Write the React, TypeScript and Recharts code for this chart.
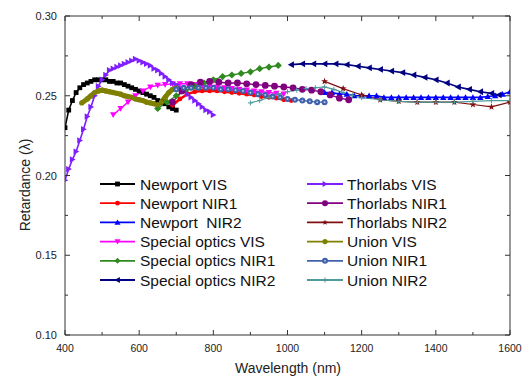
import React from 'react';
import { LineChart, Line, XAxis, YAxis, Legend } from 'recharts';

// ---------- data ----------
const newportVisWl = [400, 410, 420, 430, 440, 450, 460, 470, 480, 490, 500, 510, 520, 530, 540, 550, 560, 570, 580, 590, 600, 610, 620, 630, 640, 650, 660, 670, 680, 690, 700];
const newportVisRet = [0.230, 0.241, 0.247, 0.252, 0.255, 0.257, 0.258, 0.259, 0.260, 0.260, 0.260, 0.260, 0.259, 0.259, 0.258, 0.258, 0.257, 0.256, 0.255, 0.254, 0.253, 0.252, 0.251, 0.250, 0.249, 0.247, 0.246, 0.245, 0.243, 0.242, 0.241];

const newportNir1Wl = [690, 710, 730, 750, 770, 790, 810, 830, 850, 870, 890, 910, 930, 950, 970, 990, 1010];
const newportNir1Ret = [0.244, 0.248, 0.251, 0.2525, 0.253, 0.253, 0.253, 0.2525, 0.252, 0.2515, 0.251, 0.2505, 0.2495, 0.249, 0.2485, 0.2475, 0.247];

const newportNir2Wl = [1100, 1120, 1140, 1160, 1180, 1200, 1220, 1240, 1260, 1280, 1300, 1320, 1340, 1360, 1380, 1400, 1420, 1440, 1460, 1480, 1500, 1520, 1540, 1560, 1580, 1600];
const newportNir2Ret = [0.252, 0.252, 0.251, 0.251, 0.250, 0.250, 0.250, 0.250, 0.249, 0.249, 0.249, 0.249, 0.249, 0.249, 0.249, 0.249, 0.249, 0.249, 0.249, 0.249, 0.249, 0.249, 0.2495, 0.250, 0.251, 0.2525];

const specialVisWl = [530, 550, 570, 590, 610, 630, 650, 670, 690, 710, 730, 750, 770, 790, 810, 830, 850, 870, 890, 910, 930, 950, 970, 990];
const specialVisRet = [0.238, 0.242, 0.246, 0.250, 0.253, 0.2555, 0.2565, 0.257, 0.2575, 0.2575, 0.2575, 0.257, 0.2565, 0.256, 0.2555, 0.255, 0.2545, 0.254, 0.2535, 0.253, 0.2525, 0.252, 0.2515, 0.251];

const specialNir1Wl = [650, 675, 700, 725, 750, 775, 800, 825, 850, 875, 900, 925, 950, 975];
const specialNir1Ret = [0.242, 0.246, 0.250, 0.253, 0.256, 0.258, 0.260, 0.262, 0.263, 0.264, 0.265, 0.267, 0.268, 0.269];

const specialNir2Wl = [1010, 1040, 1070, 1100, 1130, 1160, 1190, 1220, 1250, 1280, 1310, 1340, 1370, 1400, 1430, 1460, 1490, 1520, 1550, 1570];
const specialNir2Ret = [0.2695, 0.270, 0.270, 0.270, 0.270, 0.2695, 0.2685, 0.2675, 0.2665, 0.2655, 0.2645, 0.263, 0.2615, 0.260, 0.258, 0.2555, 0.254, 0.2525, 0.2515, 0.2505];

const thorVisWl = [400, 410, 420, 430, 440, 450, 460, 470, 480, 490, 500, 510, 520, 530, 540, 550, 560, 570, 580, 590, 600, 610, 620, 630, 640, 650, 660, 670, 680, 690, 700, 710, 720, 730, 740, 750, 760, 770, 780, 790, 800];
const thorVisRet = [0.197, 0.204, 0.210, 0.215, 0.222, 0.229, 0.237, 0.243, 0.250, 0.256, 0.260, 0.263, 0.266, 0.267, 0.268, 0.269, 0.270, 0.271, 0.272, 0.273, 0.272, 0.271, 0.270, 0.269, 0.267, 0.266, 0.264, 0.262, 0.260, 0.258, 0.257, 0.255, 0.253, 0.251, 0.249, 0.247, 0.245, 0.243, 0.241, 0.240, 0.238];

const thorNir1Wl = [690, 715, 740, 765, 790, 815, 840, 865, 890, 915, 940, 965, 990, 1015, 1040, 1065, 1090, 1115, 1140, 1165];
const thorNir1Ret = [0.246, 0.253, 0.257, 0.2585, 0.259, 0.2585, 0.258, 0.258, 0.2575, 0.257, 0.2565, 0.256, 0.2555, 0.255, 0.254, 0.2535, 0.2525, 0.2505, 0.2485, 0.2475];

const thorNir2Wl = [1100, 1150, 1200, 1250, 1300, 1350, 1400, 1450, 1500, 1550, 1600];
const thorNir2Ret = [0.259, 0.2545, 0.2505, 0.2475, 0.2465, 0.246, 0.246, 0.246, 0.2445, 0.243, 0.246];

const unionVisWl = [445, 460, 470, 480, 490, 500, 510, 520, 530, 540, 550, 560, 570, 580, 590, 600, 610, 620, 630, 640, 650, 660, 670, 680, 690, 700];
const unionVisRet = [0.2455, 0.248, 0.250, 0.252, 0.253, 0.2535, 0.253, 0.2525, 0.252, 0.2515, 0.251, 0.250, 0.2495, 0.249, 0.248, 0.2475, 0.247, 0.246, 0.2455, 0.245, 0.2445, 0.246, 0.249, 0.252, 0.254, 0.255];

const unionNir1Wl = [700, 720, 740, 760, 780, 800, 820, 840, 860, 880, 900, 920, 940, 960, 980, 1000, 1020, 1040, 1060, 1080, 1100];
const unionNir1Ret = [0.254, 0.255, 0.255, 0.255, 0.255, 0.255, 0.254, 0.254, 0.2535, 0.253, 0.252, 0.251, 0.2505, 0.2495, 0.249, 0.248, 0.2475, 0.247, 0.2465, 0.246, 0.246];

const unionNir2Wl = [900, 925, 950, 975, 1000, 1025, 1050, 1075, 1100, 1125, 1150, 1175, 1200, 1250, 1300, 1350, 1400, 1450, 1500, 1550, 1600];
const unionNir2Ret = [0.2455, 0.247, 0.249, 0.251, 0.2525, 0.2535, 0.2545, 0.255, 0.2555, 0.254, 0.252, 0.250, 0.2488, 0.2475, 0.2465, 0.246, 0.246, 0.246, 0.2465, 0.247, 0.247];

const seriesNames = [
  'Newport VIS', 'Newport NIR1', 'Newport  NIR2', 'Special optics VIS', 'Special optics NIR1', 'Special optics NIR2',
  'Thorlabs VIS', 'Thorlabs NIR1', 'Thorlabs NIR2', 'Union VIS', 'Union NIR1', 'Union NIR2',
];

const xTicks = [400, 500, 600, 700, 800, 900, 1000, 1100, 1200, 1300, 1400, 1500, 1600];
const yTicks = [0.1, 0.125, 0.15, 0.175, 0.2, 0.225, 0.25, 0.275, 0.3];

// ---------- styling ----------
type Shape = 'square' | 'circle' | 'up' | 'down' | 'left' | 'right' | 'diamond' | 'star' | 'plus' | 'ring';

const styles: { color: string; shape: Shape; size: number; width: number }[] = [
  { color: '#000000', shape: 'square', size: 2.4, width: 1.6 },
  { color: '#ff0000', shape: 'circle', size: 2.4, width: 2.5 },
  { color: '#0000ff', shape: 'up', size: 3.2, width: 1.6 },
  { color: '#ff00ff', shape: 'down', size: 3.2, width: 1.4 },
  { color: '#2f8a1f', shape: 'diamond', size: 3.6, width: 1.4 },
  { color: '#000080', shape: 'left', size: 3.4, width: 1.6 },
  { color: '#7f1fff', shape: 'right', size: 3.2, width: 1.6 },
  { color: '#800080', shape: 'circle', size: 3.4, width: 1.4 },
  { color: '#801010', shape: 'star', size: 3.6, width: 1.2 },
  { color: '#808000', shape: 'circle', size: 2.6, width: 5 },
  { color: '#4062ad', shape: 'ring', size: 3.0, width: 1.4 },
  { color: '#4f9a9a', shape: 'plus', size: 2.5, width: 1.2 },
];

const wls = [newportVisWl, newportNir1Wl, newportNir2Wl, specialVisWl, specialNir1Wl, specialNir2Wl, thorVisWl, thorNir1Wl, thorNir2Wl, unionVisWl, unionNir1Wl, unionNir2Wl];
const rets = [newportVisRet, newportNir1Ret, newportNir2Ret, specialVisRet, specialNir1Ret, specialNir2Ret, thorVisRet, thorNir1Ret, thorNir2Ret, unionVisRet, unionNir1Ret, unionNir2Ret];

const series = seriesNames.map((name, i) => ({
  name,
  ...styles[i],
  data: wls[i].map((x, j) => ({ x, y: rets[i][j] })),
}));

function marker(shape: Shape, cx: number, cy: number, s: number, color: string, key?: any) {
  switch (shape) {
    case 'square':
      return <rect key={key} x={cx - s} y={cy - s} width={2 * s} height={2 * s} fill={color} />;
    case 'circle':
      return <circle key={key} cx={cx} cy={cy} r={s} fill={color} />;
    case 'ring':
      return (
        <g key={key}>
          <circle cx={cx} cy={cy} r={s} fill={color} />
          <circle cx={cx} cy={cy} r={s * 0.3} fill="#c8d4ee" />
        </g>
      );
    case 'up':
      return <polygon key={key} points={`${cx},${cy - s} ${cx - s},${cy + s * 0.8} ${cx + s},${cy + s * 0.8}`} fill={color} />;
    case 'down':
      return <polygon key={key} points={`${cx},${cy + s} ${cx - s},${cy - s * 0.8} ${cx + s},${cy - s * 0.8}`} fill={color} />;
    case 'left':
      return <polygon key={key} points={`${cx - s},${cy} ${cx + s * 0.8},${cy - s} ${cx + s * 0.8},${cy + s}`} fill={color} />;
    case 'right':
      return <polygon key={key} points={`${cx + s},${cy} ${cx - s * 0.8},${cy - s} ${cx - s * 0.8},${cy + s}`} fill={color} />;
    case 'diamond':
      return <polygon key={key} points={`${cx},${cy - s} ${cx + s},${cy} ${cx},${cy + s} ${cx - s},${cy}`} fill={color} />;
    case 'star': {
      const pts: string[] = [];
      for (let k = 0; k < 10; k++) {
        const r = k % 2 === 0 ? s : s * 0.42;
        const a = -Math.PI / 2 + (k * Math.PI) / 5;
        pts.push(`${cx + r * Math.cos(a)},${cy + r * Math.sin(a)}`);
      }
      return <polygon key={key} points={pts.join(' ')} fill={color} />;
    }
    case 'plus':
    default:
      return (
        <g key={key} stroke={color} strokeWidth={1}>
          <line x1={cx - s} x2={cx + s} y1={cy} y2={cy} />
          <line x1={cx} x2={cx} y1={cy - s} y2={cy + s} />
        </g>
      );
  }
}

const FONT = 'Arial, "Liberation Sans", Helvetica, sans-serif';
const AXIS = '#333333';

const BottomTick = (props: any) => {
  const { x, y, payload } = props;
  const v = payload.value as number;
  const major = Math.round(v) % 200 === 0;
  const axisY = y - 6;
  return (
    <g>
      <line x1={x} x2={x} y1={axisY} y2={axisY - (major ? 5 : 3)} stroke={AXIS} />
      {major && (
        <text x={x} y={axisY + 17} textAnchor="middle" fontSize={10.5} fontFamily={FONT} fill="#222">
          {v}
        </text>
      )}
    </g>
  );
};

const TopTick = (props: any) => {
  const { x, y, payload } = props;
  const v = payload.value as number;
  const major = Math.round(v) % 200 === 0;
  return <line x1={x} x2={x} y1={y} y2={y + (major ? 5 : 3)} stroke={AXIS} />;
};

const LeftTick = (props: any) => {
  const { x, y, payload } = props;
  const v = payload.value as number;
  const major = Math.round(v * 1000) % 50 === 0;
  const axisX = x + 8;
  return (
    <g>
      <line x1={axisX} x2={axisX + (major ? 5 : 3)} y1={y} y2={y} stroke={AXIS} />
      {major && (
        <text x={x} y={y + 4} textAnchor="end" fontSize={11} fontFamily={FONT} fill="#222">
          {v.toFixed(2)}
        </text>
      )}
    </g>
  );
};

const RightTick = (props: any) => {
  const { x, y, payload } = props;
  const v = payload.value as number;
  const major = Math.round(v * 1000) % 50 === 0;
  return <line x1={x} x2={x - (major ? 5 : 3)} y1={y} y2={y} stroke={AXIS} />;
};

const renderLegend = () => (
  <svg width={526} height={378} style={{ position: 'absolute', left: 0, top: 0 }}>
    {series.map((s, i) => {
      const col = i < 6 ? 0 : 1;
      const row = i % 6;
      const x1 = col ? 307 : 100;
      const x2 = col ? 343 : 135;
      const tx = col ? 347 : 140;
      const y = 184 + row * 19.2;
      return (
        <g key={s.name}>
          <line x1={x1} x2={x2} y1={y} y2={y} stroke={s.color} strokeWidth={1.8} />
          {marker(s.shape, (x1 + x2) / 2, y, Math.min(s.size, 3), s.color)}
          <text x={tx} y={y + 5.5} fontSize={15.5} fontFamily={FONT} fill="#111" style={{ whiteSpace: 'pre' }}>
            {s.name}
          </text>
        </g>
      );
    })}
  </svg>
);

export default function App() {
  return (
    <div style={{ position: 'absolute', left: 0, top: 0, width: 526, height: 378, background: '#fff', fontFamily: FONT }}>
      <LineChart width={526} height={378} margin={{ top: 0, right: 0, bottom: 0, left: 0 }}>
        <XAxis
          xAxisId="b"
          type="number"
          dataKey="x"
          domain={[400, 1600]}
          ticks={xTicks}
          interval={0}
          allowDataOverflow
          height={43}
          tickSize={0}
          tickMargin={6}
          axisLine={{ stroke: AXIS }}
          tickLine={false}
          tick={<BottomTick />}
        />
        <XAxis
          xAxisId="t"
          orientation="top"
          type="number"
          dataKey="x"
          domain={[400, 1600]}
          ticks={xTicks}
          interval={0}
          allowDataOverflow
          height={16}
          tickSize={0}
          tickMargin={0}
          axisLine={{ stroke: AXIS }}
          tickLine={false}
          tick={<TopTick />}
        />
        <YAxis
          yAxisId="l"
          type="number"
          domain={[0.1, 0.3]}
          ticks={yTicks}
          interval={0}
          allowDataOverflow
          width={65}
          tickSize={0}
          tickMargin={8}
          axisLine={{ stroke: AXIS }}
          tickLine={false}
          tick={<LeftTick />}
        />
        <YAxis
          yAxisId="r"
          orientation="right"
          type="number"
          domain={[0.1, 0.3]}
          ticks={yTicks}
          interval={0}
          allowDataOverflow
          width={16}
          tickSize={0}
          tickMargin={0}
          axisLine={{ stroke: AXIS }}
          tickLine={false}
          tick={<RightTick />}
        />
        {series.map((s) => (
          <Line
            key={s.name}
            xAxisId="b"
            yAxisId="l"
            data={s.data}
            dataKey="y"
            name={s.name}
            type="linear"
            stroke={s.color}
            strokeWidth={s.width}
            isAnimationActive={false}
            activeDot={false}
            dot={(p: any) => marker(s.shape, p.cx, p.cy, s.size, s.color, `${s.name}-${p.index}`)}
          />
        ))}
        <Legend
          layout="horizontal"
          verticalAlign="middle"
          align="center"
          content={renderLegend}
          wrapperStyle={{ left: 0, top: 0, width: 526, height: 378, pointerEvents: 'none' }}
        />
        <text x={288} y={373} textAnchor="middle" fontSize={14} fontFamily={FONT} fill="#222">
          Wavelength (nm)
        </text>
        <text x={30} y={185} textAnchor="middle" fontSize={14} fontFamily={FONT} fill="#222" transform="rotate(-90, 30, 185)">
          Retardance (λ)
        </text>
      </LineChart>
    </div>
  );
}
